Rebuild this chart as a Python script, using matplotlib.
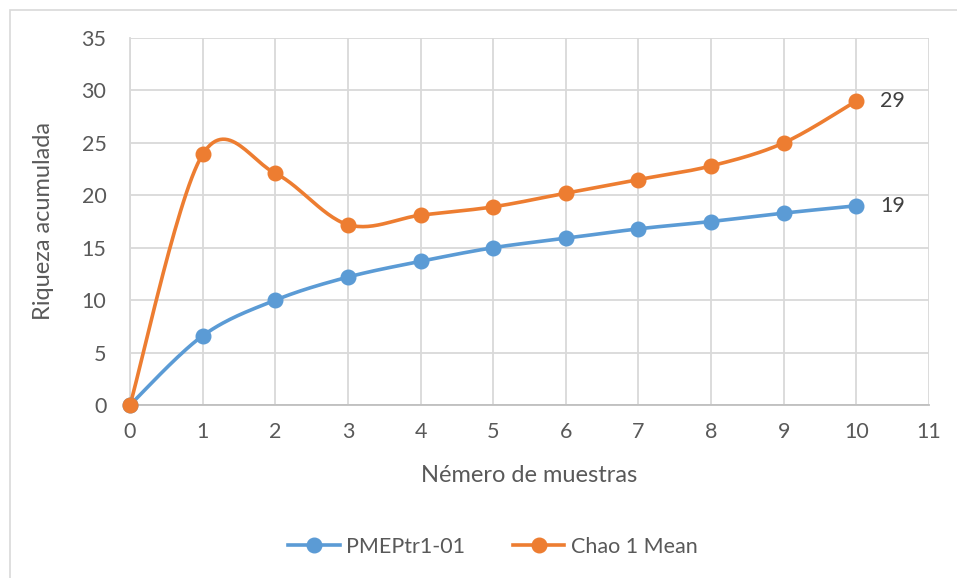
import numpy as np
import matplotlib.pyplot as plt
from matplotlib.patches import Rectangle

plt.rcParams['font.family'] = ['Lato', 'DejaVu Sans']

muestras = [0, 1, 2, 3, 4, 5, 6, 7, 8, 9, 10]
pmeptr = [0, 6.6, 10.0, 12.2, 13.7, 15.0, 15.9, 16.8, 17.5, 18.3, 19.0]
chao1 = [0, 23.9, 22.1, 17.2, 18.1, 18.9, 20.2, 21.5, 22.8, 25.0, 29.0]
series_names = ['PMEPtr1-01', 'Chao 1 Mean']
colors = ['#5B9BD5', '#ED7D31']
yticks = [0, 5, 10, 15, 20, 25, 30, 35]
xticks = list(range(0, 12))

text_col = '#595959'


def smooth(x, y, n=30):
    # bezier smoothing like excel's "smoothed line"
    p = np.column_stack([x, y]).astype(float)
    pts = [p[0]]
    for i in range(len(p) - 1):
        p0 = p[i - 1] if i > 0 else p[i]
        p3 = p[i + 2] if i + 2 < len(p) else p[i + 1]
        c1 = p[i] + (p[i + 1] - p0) / 6
        c2 = p[i + 1] - (p3 - p[i]) / 6
        t = np.linspace(0, 1, n)[1:, None]
        seg = ((1 - t) ** 3 * p[i] + 3 * (1 - t) ** 2 * t * c1
               + 3 * (1 - t) * t ** 2 * c2 + t ** 3 * p[i + 1])
        pts.extend(seg)
    pts = np.array(pts)
    return pts[:, 0], pts[:, 1]


fig = plt.figure(figsize=(9.57, 5.78), dpi=100)
W, H = 957, 578
ax = fig.add_axes([130 / W, 1 - 405 / H, (929 - 130) / W, (405 - 38) / H])

# chart border (only top/left visible)
fig.patches.append(Rectangle((10 / W, -0.1), 1.2, 1.1 - 10 / H,
                             transform=fig.transFigure, fill=False,
                             edgecolor='#d9d9d9', linewidth=1.2))

handles = []
for vals, name, c in zip([pmeptr, chao1], series_names, colors):
    sx, sy = smooth(muestras, vals)
    ax.plot(sx, sy, color=c, lw=2.6, solid_capstyle='round', zorder=3)
    ax.plot(muestras, vals, 'o', color=c, ms=10.5, zorder=4, clip_on=False)
    h, = ax.plot([], [], '-o', color=c, lw=2.6, ms=10.5, label=name)
    handles.append(h)

for vals in [pmeptr, chao1]:
    ax.annotate(f'{vals[-1]:g}', (muestras[-1], vals[-1]), xytext=(17, 0),
                textcoords='offset points', va='center', ha='left',
                fontsize=15.5, color='#404040')

ax.set_xlim(0, 11)
ax.set_ylim(0, 35)
ax.set_xticks(xticks)
ax.set_yticks(yticks)
ax.grid(True, color='#d9d9d9', lw=1.3)
ax.set_axisbelow(True)
for s in ['top', 'right']:
    ax.spines[s].set_visible(False)
ax.spines['left'].set_color('#d9d9d9')
ax.spines['left'].set_linewidth(1.3)
ax.spines['bottom'].set_color('#bfbfbf')
ax.spines['bottom'].set_linewidth(1.3)
ax.tick_params(length=0, labelsize=15.5, colors=text_col, pad=12)
ax.tick_params(axis='y', pad=17)

ax.set_xlabel('Némero de muestras', fontsize=17, color=text_col, labelpad=17)
ax.set_ylabel('Riqueza acumulada', fontsize=17, color=text_col, labelpad=20)

fig.legend(handles=handles, loc='center', bbox_to_anchor=(493 / W, 1 - 547 / H),
           ncol=2, frameon=False, fontsize=15.5, labelcolor=text_col,
           handlelength=2.4, columnspacing=2.2, handletextpad=0.3)

fig.savefig('out.png', dpi=100)
